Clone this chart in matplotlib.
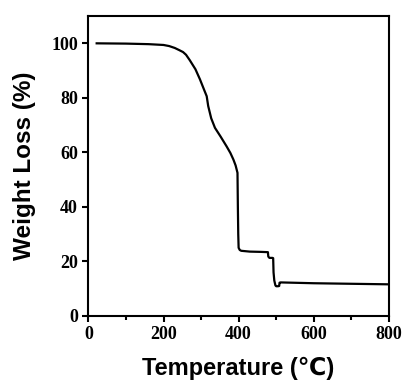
import matplotlib
matplotlib.use("Agg")
import matplotlib.pyplot as plt
from matplotlib.ticker import MultipleLocator

temperature = [22, 100, 160, 200, 215, 230, 242, 252, 260, 270, 285, 297, 308, 315, 319, 327, 337, 352, 368, 378, 386, 392, 397,
               398, 399, 400, 403, 407, 430, 460, 478, 479, 482, 490, 492, 493, 495, 498, 500, 505, 508, 509, 512, 600, 700, 800]
weight = [100, 99.9, 99.7, 99.4, 99.0, 98.3, 97.5, 96.8, 95.8, 93.8, 90.5, 86.8, 83.0, 80.6, 77.0, 72.5, 69.0, 65.8, 62.2, 59.8, 57.4, 55.2, 52.5,
          40.0, 30.0, 25.0, 24.2, 23.9, 23.6, 23.5, 23.4, 21.8, 21.3, 21.3, 21.2, 16.0, 13.0, 11.2, 10.9, 10.9, 11.0, 12.2, 12.3, 12.0, 11.8, 11.6]

xticks = [0, 200, 400, 600, 800]
yticks = [0, 20, 40, 60, 80, 100]

fig = plt.figure(figsize=(4.19, 3.92), dpi=100)
ax = fig.add_axes([0.211, 0.194, 0.717, 0.765])
ax.plot(temperature, weight, color="black", lw=1.6)
ax.set_xlim(0, 800)
ax.set_ylim(0, 110)
ax.set_xticks(xticks)
ax.set_yticks(yticks)
ax.xaxis.set_minor_locator(MultipleLocator(100))
ax.tick_params(which="major", direction="out", length=4, width=1.5, top=False, right=False)
ax.tick_params(which="minor", direction="out", length=3, width=1.5, top=False, right=False)
for s in ax.spines.values():
    s.set_linewidth(1.5)
for lab in ax.get_xticklabels() + ax.get_yticklabels():
    lab.set_fontfamily(["Liberation Serif", "DejaVu Serif"])
    lab.set_fontweight("bold")
    lab.set_fontsize(13)
ax.set_xlabel("Temperature (℃)", fontsize=17, fontweight="bold",
              family=["Liberation Sans", "DejaVu Sans"], labelpad=10)
ax.set_ylabel("Weight Loss (%)", fontsize=17.5, fontweight="bold",
              family=["Liberation Sans", "DejaVu Sans"], labelpad=11)
fig.savefig("out.png", dpi=100)
